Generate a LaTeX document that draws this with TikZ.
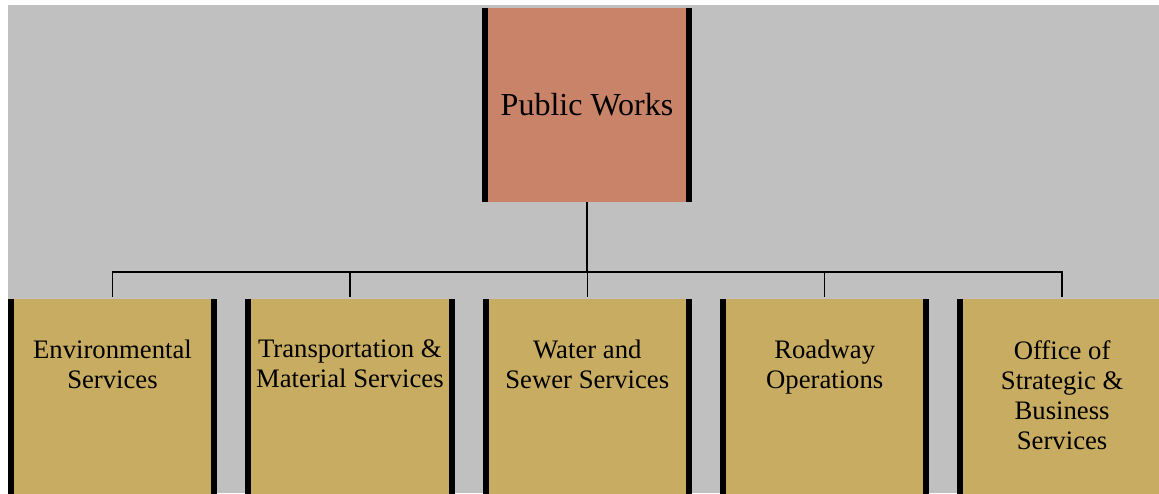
\documentclass[tikz,border=0pt]{standalone}
\usepackage{fontspec}
\setmainfont{Liberation Serif}
\definecolor{backgray}{RGB}{192,192,192}
\definecolor{headbrown}{RGB}{200,131,104}
\definecolor{unitgold}{RGB}{200,172,98}
\usetikzlibrary{positioning,calc}

\begin{document}
\begin{tikzpicture}[x=1pt,y=-1pt,
    headbox/.style={rectangle,fill=headbrown,inner sep=0pt,minimum width=210pt,minimum height=194pt,font=\fontsize{32}{38}\selectfont},
    unitbox/.style={rectangle,fill=unitgold,inner sep=0pt,minimum width=209pt,minimum height=200pt},
    unittext/.style={align=center,inner sep=0pt,anchor=north,font=\fontsize{26.7}{30}\selectfont},
    sidebar/.style={fill=black},
    link/.style={line width=1.5pt}]
    \useasboundingbox (0,0) rectangle (1159,493);
    \clip (0,0) rectangle (1159,493);
    \fill[backgray] (8,5) rectangle (1159,493);

    % boxes
    \node[headbox] (pw) at (587,105) {Public Works};
    \node[unitbox,anchor=north] (env) at (112.5,299) {};
    \node[unitbox,right=28pt of env] (tms) {};
    \node[unitbox,right=28pt of tms] (wss) {};
    \node[unitbox,right=28pt of wss] (rdo) {};
    \node[unitbox,right=28pt of rdo] (osb) {};

    % thick side bars
    \foreach \b in {pw,env,tms,wss,rdo,osb} {
      \fill[sidebar] (\b.north west) rectangle ([xshift=6pt]\b.south west);
      \fill[sidebar] ([xshift=-6pt]\b.north east) rectangle (\b.south east);
    }

    % texts
    \node[unittext] (envt) at ([yshift=-41pt]env.north) {Environmental\\Services};
    \node[unittext] (tmst) at ([yshift=-41pt]tms.north) {Transportation \&\\Material Services};
    \node[unittext] (wsst) at ([yshift=-41pt]wss.north) {Water and\\Sewer Services};
    \node[unittext] (rdot) at ([yshift=-41pt]rdo.north) {Roadway\\Operations};
    \node[unittext] (osbt) at ([yshift=-41pt]osb.north) {Office of\\Strategic \&\\Business\\Services};

    % connectors
    \coordinate (bus) at ($(pw.south)+(0,70)$);
    \draw[link] (pw.south) -- (bus);
    \foreach \u in {env,tms,wss,rdo,osb}
      \draw[link] (bus) -| ([yshift=2pt]\u.north);
\end{tikzpicture}
\end{document}
